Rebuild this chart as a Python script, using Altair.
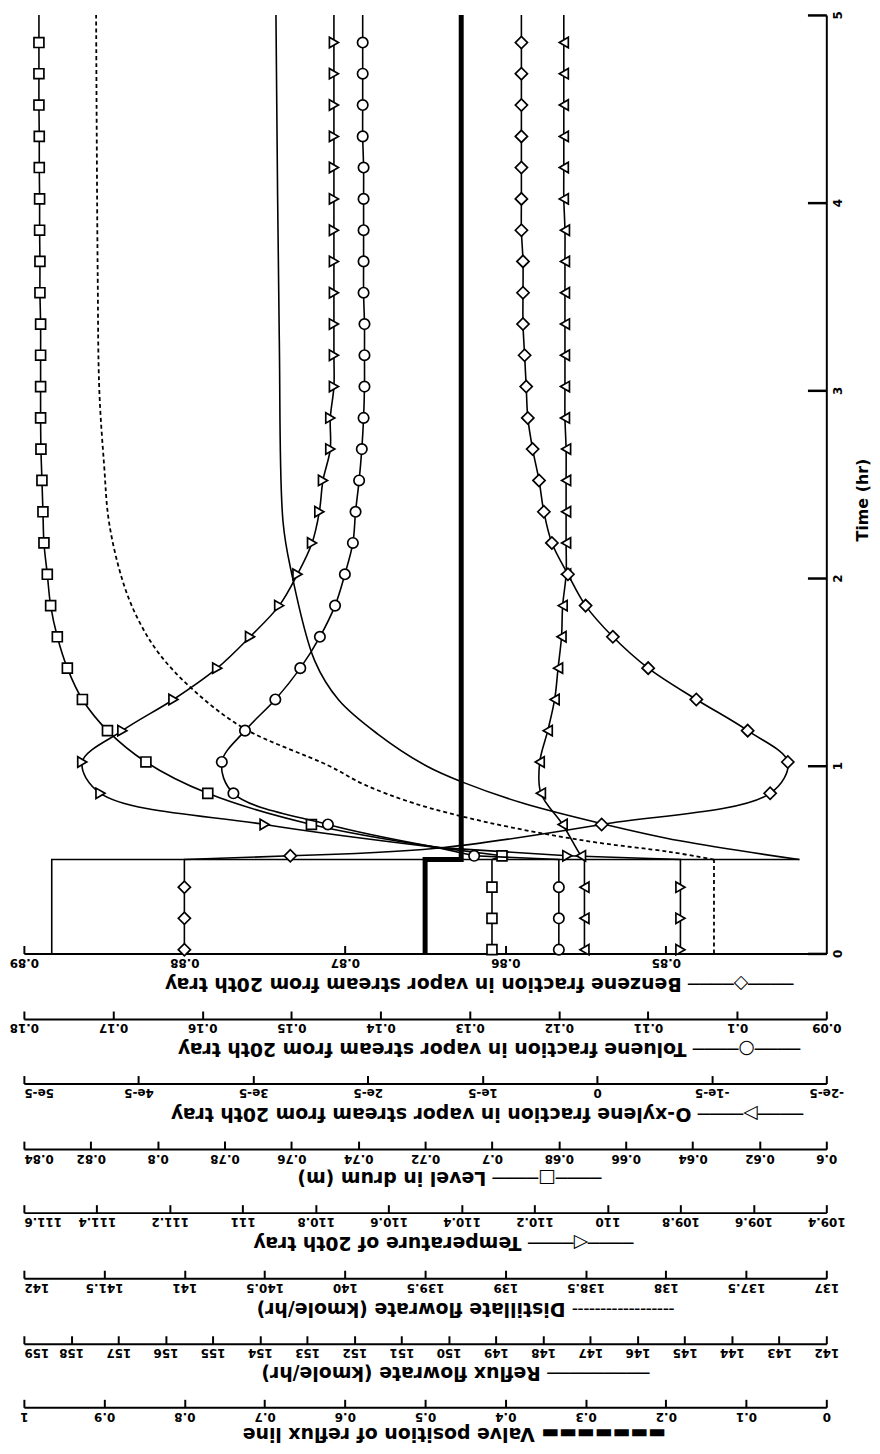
import altair as alt
import pandas as pd

# ---------------- data ----------------
MARK_T = [0.02, 0.187, 0.353, 0.52, 0.687, 0.853, 1.02, 1.187, 1.353, 1.52,
          1.687, 1.853, 2.02, 2.187, 2.353, 2.52, 2.687, 2.853, 3.02, 3.187,
          3.353, 3.52, 3.687, 3.853, 4.02, 4.187, 4.353, 4.52, 4.687, 4.853]

BENZENE = [0.880, 0.880, 0.880, 0.8734, 0.8540, 0.8435, 0.8424, 0.8449, 0.8481, 0.8511,
           0.8533, 0.8550, 0.8561, 0.8571, 0.8576, 0.8579, 0.8583, 0.8586, 0.8587, 0.8588,
           0.8589, 0.8589, 0.8589, 0.8590, 0.8590, 0.8590, 0.8590, 0.8590, 0.8590, 0.8590]
BENZENE_EXTRA_T = [0.5, 0.56, 5.0]
BENZENE_EXTRA_V = [0.880, 0.8643, 0.8590]

TOLUENE = [0.120, 0.120, 0.120, 0.1295, 0.1459, 0.1565, 0.1578, 0.1552, 0.1518, 0.1490,
           0.1468, 0.1451, 0.1440, 0.1431, 0.1428, 0.1424, 0.1421, 0.1419, 0.1418, 0.1418,
           0.1418, 0.1419, 0.1419, 0.1419, 0.1419, 0.1419, 0.1420, 0.1420, 0.1420, 0.1420]
TOLUENE_EXTRA_T = [0.5, 0.565, 5.0]
TOLUENE_EXTRA_V = [0.120, 0.1337, 0.1420]

XYLENE = [0.11e-5, 0.11e-5, 0.11e-5, 0.14e-5, 0.30e-5, 0.49e-5, 0.50e-5, 0.43e-5, 0.37e-5, 0.34e-5,
          0.31e-5, 0.30e-5, 0.27e-5, 0.27e-5, 0.27e-5, 0.27e-5, 0.27e-5, 0.28e-5, 0.28e-5, 0.28e-5,
          0.28e-5, 0.28e-5, 0.28e-5, 0.28e-5, 0.29e-5, 0.29e-5, 0.29e-5, 0.29e-5, 0.29e-5, 0.29e-5]
XYLENE_EXTRA_T = [0.5, 5.0]
XYLENE_EXTRA_V = [0.11e-5, 0.29e-5]

LEVEL = [0.700, 0.700, 0.700, 0.697, 0.754, 0.785, 0.8035, 0.815, 0.8225, 0.827,
         0.830, 0.832, 0.833, 0.834, 0.8343, 0.8346, 0.8349, 0.835, 0.835, 0.835,
         0.835, 0.8352, 0.8352, 0.8353, 0.8353, 0.8354, 0.8354, 0.8355, 0.8355, 0.8355]
LEVEL_EXTRA_T = [0.5, 0.565, 5.0]
LEVEL_EXTRA_V = [0.700, 0.7165, 0.8355]

TEMP = [109.80, 109.80, 109.80, 110.11, 110.94, 111.39, 111.44, 111.33, 111.19, 111.07,
        110.98, 110.90, 110.85, 110.81, 110.79, 110.78, 110.76, 110.76, 110.75, 110.75,
        110.75, 110.75, 110.75, 110.75, 110.75, 110.75, 110.75, 110.75, 110.75, 110.75]
TEMP_EXTRA_T = [0.5, 0.565, 5.0]
TEMP_EXTRA_V = [109.80, 110.47, 110.75]

DIST_T = [0.0, 0.5, 0.54, 0.6, 0.7, 0.8, 0.9, 1.0, 1.2, 1.4, 1.6, 1.8, 2.0, 2.3, 2.6, 3.0, 3.6, 5.0]
DIST_V = [137.70, 137.70, 137.97, 138.50, 139.12, 139.57, 139.88, 140.10, 140.63, 140.94,
          141.16, 141.30, 141.39, 141.47, 141.50, 141.53, 141.54, 141.55]

REFLUX_T = [0.0, 0.5, 0.5, 0.6, 0.69, 0.8, 0.91, 1.0, 1.17, 1.35, 1.56, 2.04, 2.3, 3.29, 5.0]
REFLUX_V = [158.41, 158.41, 142.57, 145.10, 146.73, 148.42, 149.68, 150.48, 151.51, 152.33,
            152.84, 153.34, 153.51, 153.59, 153.66]

VALVE_T = [0.0, 0.5, 0.5, 5.0]
VALVE_V = [0.5, 0.5, 0.455, 0.455]

# axis ticks
BENZ_TICKS = [0.85, 0.86, 0.87, 0.88, 0.89]
TOL_TICKS = [0.09, 0.10, 0.11, 0.12, 0.13, 0.14, 0.15, 0.16, 0.17, 0.18]
XYL_TICKS = [-2e-5, -1e-5, 0, 1e-5, 2e-5, 3e-5, 4e-5, 5e-5]
LEVEL_TICKS = [0.60, 0.62, 0.64, 0.66, 0.68, 0.70, 0.72, 0.74, 0.76, 0.78, 0.80, 0.82, 0.84]
TEMP_TICKS = [109.4, 109.6, 109.8, 110.0, 110.2, 110.4, 110.6, 110.8, 111.0, 111.2, 111.4, 111.6]
DIST_TICKS = [137, 137.5, 138, 138.5, 139, 139.5, 140, 140.5, 141, 141.5, 142]
REFLUX_TICKS = [142, 143, 144, 145, 146, 147, 148, 149, 150, 151, 152, 153, 154, 155, 156, 157, 158, 159]
VALVE_TICKS = [0, 0.1, 0.2, 0.3, 0.4, 0.5, 0.6, 0.7, 0.8, 0.9, 1.0]
TIME_TICKS = [0, 1, 2, 3, 4, 5]

# titles (drawn upside down, so the legend key written first lands on the right)
TITLES = [
    "────◇────   Benzene fraction in vapor stream from 20th tray",
    "────○────   Toluene fraction in vapor stream from 20th tray",
    "────▷────   O-xylene fraction in vapor stream from 20th tray",
    "────□────   Level in drum   (m)",
    "────◁────   Temperature of 20th tray",
    "╌╌╌╌╌╌╌╌╌   Distillate flowrate   (kmole/hr)",
    "─────────   Reflux flowrate   (kmole/hr)",
    "▬▬▬▬▬▬▬   Valve position of reflux line",
]

# ---------------- layout ----------------
W, H = 808, 945
FONT = "DejaVu Sans"
OFFS = [0, 66, 131, 197, 261, 327, 393, 457]
TITLE_X = [458, 468, 466, 428, 422, 444, 434, 433]
TITLE_Y = [30, 30, 30, 29, 30, 30, 29, 26]


def time_axis():
    return alt.Axis(orient="left", offset=-W, values=TIME_TICKS, title="Time   (hr)",
                    tickSize=19, tickWidth=2.5, tickColor="black", domainColor="black",
                    domainWidth=2, labelAngle=270, labelAlign="center", labelBaseline="middle",
                    labelPadding=-30, labelFont=FONT, labelFontSize=12, labelFontWeight="bold",
                    labelColor="black", labelFlush=False, format="d", grid=False,
                    titleAngle=270, titleX=36, titleY=488, titleAlign="center",
                    titleBaseline="middle", titleFont=FONT, titleFontSize=16,
                    titleFontWeight="bold", titleColor="black")


def val_axis(i, ticks, fmt="~g", expr=None, flush_at=None):
    align = "center"
    if flush_at is not None:
        align = {"condition": {"test": f"datum.value >= {flush_at}", "value": "right"},
                 "value": "center"}
    kw = dict(orient="top", offset=-(H + OFFS[i]), values=ticks, title=TITLES[i],
              tickSize=8, tickWidth=2, tickColor="black", domainColor="black", domainWidth=2,
              labelAngle=180, labelAlign=align, labelBaseline="middle", labelPadding=-17,
              labelFont=FONT, labelFontSize=12, labelFontWeight="bold", labelColor="black",
              labelFlush=False, labelOverlap=False, labelBound=False, grid=False,
              titleAngle=180, titleAlign="center", titleBaseline="middle",
              titleX=TITLE_X[i], titleY=TITLE_Y[i], titleFont=FONT, titleFontSize=19,
              titleFontWeight="bold", titleColor="black")
    if expr:
        kw["labelExpr"] = expr
    else:
        kw["format"] = fmt
    return alt.Axis(**kw)


Y = alt.Y("t:Q", scale=alt.Scale(domain=[0, 5], nice=False, zero=False), axis=time_axis())


def xenc(dom, axis):
    return alt.X("v:Q", scale=alt.Scale(domain=dom, reverse=True, nice=False, zero=False), axis=axis)


def two_part_line(df, split_t, x, width, dash=None):
    """straight segments up to the disturbance, smooth curve after it"""
    pre = df[df["t"] <= split_t]
    post = df[df["o"] >= pre["o"].max()]
    kw = dict(color="black", strokeWidth=width)
    if dash:
        kw["strokeDash"] = dash
    a = alt.Chart(pre).mark_line(**kw).encode(x=x, y=Y, order="o:Q")
    b = alt.Chart(post).mark_line(interpolate="catmull-rom", **kw).encode(x=x, y=Y, order="o:Q")
    return [a, b]


def marker_series(vals, ex_t, ex_v, split_t, dom, axis, shape, size):
    pts = pd.DataFrame({"t": MARK_T, "v": vals})
    ln = pd.concat([pts, pd.DataFrame({"t": ex_t, "v": ex_v})]).sort_values("t").reset_index(drop=True)
    ln["o"] = range(len(ln))
    x = xenc(dom, axis)
    lines = two_part_line(ln, split_t, x, 1.6)
    dots = alt.Chart(pts).mark_point(shape=shape, filled=True, fill="white", stroke="black",
                                     strokeWidth=1.7, size=size, opacity=1).encode(x=x, y=Y)
    return alt.layer(*lines, dots)


def line_series(ts, vs, split_o, dom, axis, width, dash=None):
    df = pd.DataFrame({"t": ts, "v": vs, "o": list(range(len(ts)))})
    x = xenc(dom, axis)
    kw = dict(color="black", strokeWidth=width)
    if dash:
        kw["strokeDash"] = dash
    if split_o is None:
        return alt.Chart(df).mark_line(**kw).encode(x=x, y=Y, order="o:Q")
    pre = df[df["o"] <= split_o]
    post = df[df["o"] >= split_o]
    a = alt.Chart(pre).mark_line(**kw).encode(x=x, y=Y, order="o:Q")
    b = alt.Chart(post).mark_line(interpolate="catmull-rom", **kw).encode(x=x, y=Y, order="o:Q")
    return alt.layer(a, b)


layers = [
    line_series(VALVE_T, VALVE_V, None, [0, 1], val_axis(7, VALVE_TICKS), 5),
    line_series(REFLUX_T, REFLUX_V, 2, [142, 159], val_axis(6, REFLUX_TICKS, flush_at=158.9), 1.6),
    line_series(DIST_T, DIST_V, 1, [137, 142], val_axis(5, DIST_TICKS, flush_at=141.9), 1.8, [4, 3]),
    marker_series(TEMP, TEMP_EXTRA_T, TEMP_EXTRA_V, 0.565, [109.4, 111.6],
                  val_axis(4, TEMP_TICKS, flush_at=111.59), "triangle-right", 110),
    marker_series(LEVEL, LEVEL_EXTRA_T, LEVEL_EXTRA_V, 0.565, [0.6, 0.84],
                  val_axis(3, LEVEL_TICKS, flush_at=0.839), "square", 100),
    marker_series(XYLENE, XYLENE_EXTRA_T, XYLENE_EXTRA_V, 0.5, [-2e-5, 5e-5],
                  val_axis(2, XYL_TICKS, expr="datum.value == 0 ? '0' : round(datum.value * 100000) + 'e-5'",
                           flush_at=4.9e-5),
                  "triangle-left", 110),
    marker_series(TOLUENE, TOLUENE_EXTRA_T, TOLUENE_EXTRA_V, 0.565, [0.09, 0.18],
                  val_axis(1, TOL_TICKS), "circle", 110),
    marker_series(BENZENE, BENZENE_EXTRA_T, BENZENE_EXTRA_V, 0.52, [0.84, 0.89],
                  val_axis(0, BENZ_TICKS), "diamond", 150),
]

chart = (
    alt.layer(*layers)
    .resolve_scale(x="independent")
    .properties(width=W, height=H, autosize=alt.AutoSizeParams(type="none"),
                padding={"left": 16, "top": 2, "right": 46, "bottom": 490},
                background="white")
    .configure_view(stroke=None)
)

chart.save("out.html", embed_options={"renderer": "svg", "actions": False})
